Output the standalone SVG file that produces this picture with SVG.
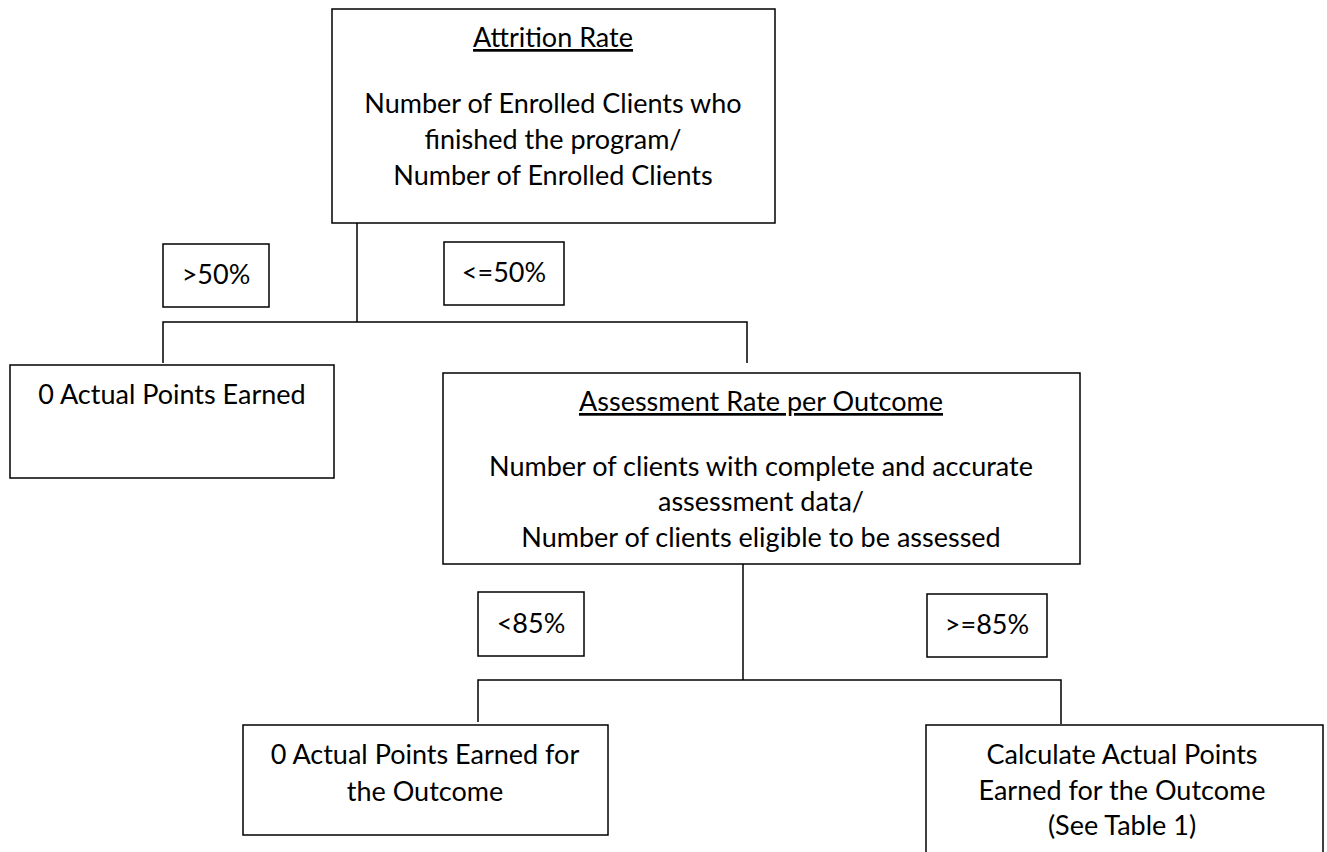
<svg xmlns="http://www.w3.org/2000/svg" width="1327" height="852" viewBox="0 0 1327 852">
<style>
.box{fill:#fff;stroke:#000;stroke-width:1.5}
.ln{fill:none;stroke:#000;stroke-width:1.5}
text{font-family:Lato,"Liberation Sans",sans-serif;font-size:27px;fill:#000;text-anchor:middle}
.u{text-decoration:underline}
</style>
<rect width="1327" height="852" fill="#fff"/>
<g id="connectors">
<polyline class="ln" points="357,223 357,322"/>
<polyline class="ln" points="163,363 163,322 747,322 747,363"/>
<polyline class="ln" points="743,564 743,680"/>
<polyline class="ln" points="478,722 478,680 1061,680 1061,724"/>
</g>
<g id="attrition">
<rect class="box" x="332" y="9" width="443" height="214"/>
<text x="553" y="47" class="u">Attrition Rate</text>
<text x="553" y="113">Number of Enrolled Clients who</text>
<text x="553" y="149">finished the program/</text>
<text x="553" y="185">Number of Enrolled Clients</text>
</g>
<g id="gt50">
<rect class="box" x="163" y="244" width="106" height="63"/>
<text x="216" y="284">&gt;50%</text>
</g>
<g id="le50">
<rect class="box" x="444" y="242" width="120" height="63"/>
<text x="504" y="282">&lt;=50%</text>
</g>
<g id="zero1">
<rect class="box" x="10" y="365" width="324" height="113"/>
<text x="172" y="404">0 Actual Points Earned</text>
</g>
<g id="assessment">
<rect class="box" x="443" y="373" width="637" height="191"/>
<text x="761" y="411" class="u">Assessment Rate per Outcome</text>
<text x="761" y="476">Number of clients with complete and accurate</text>
<text x="761" y="511">assessment data/</text>
<text x="761" y="547">Number of clients eligible to be assessed</text>
</g>
<g id="lt85">
<rect class="box" x="478" y="592" width="106" height="64"/>
<text x="531" y="633">&lt;85%</text>
</g>
<g id="ge85">
<rect class="box" x="927" y="594" width="120" height="63"/>
<text x="987" y="634">&gt;=85%</text>
</g>
<g id="zero2">
<rect class="box" x="243" y="725" width="365" height="110"/>
<text x="425" y="764">0 Actual Points Earned for</text>
<text x="425" y="801">the Outcome</text>
</g>
<g id="calc">
<rect class="box" x="926" y="725" width="397" height="140"/>
<text x="1122" y="764">Calculate Actual Points</text>
<text x="1122" y="800">Earned for the Outcome</text>
<text x="1122" y="835">(See Table 1)</text>
</g>
</svg>
